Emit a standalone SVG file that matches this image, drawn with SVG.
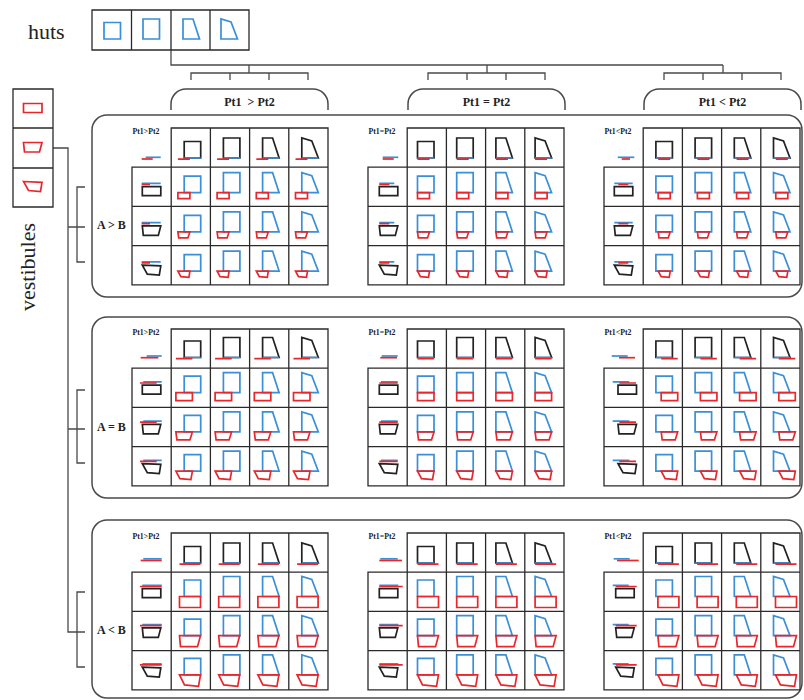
<svg xmlns="http://www.w3.org/2000/svg" width="804" height="700" viewBox="0 0 804 700">
<style>
.b{fill:none;stroke:#3a8fd6;stroke-width:1.7}
.r{fill:none;stroke:#e8262b;stroke-width:1.7}
.k{fill:none;stroke:#222;stroke-width:1.7}
.gl{fill:none;stroke:#2a2a2a;stroke-width:1.3}
.pn{fill:none;stroke:#4a4a4a;stroke-width:1.5}
.cn{fill:none;stroke:#4a4a4a;stroke-width:1.3}
.lb{font-family:"Liberation Serif","Times New Roman",serif;font-weight:bold;font-size:12px;fill:#222}
.sm{font-family:"Liberation Serif","Times New Roman",serif;font-weight:bold;font-size:7.8px;fill:#222}
.big{font-family:"Liberation Serif","Times New Roman",serif;font-size:22px;fill:#222}
</style>
<defs>
<path id="h1" d="M0,0V-16.5H16.5V0Z"/>
<path id="h2" d="M0,0V-20H16.5V0Z"/>
<path id="h3" d="M0,0V-20H10L16.5,0Z"/>
<path id="h4" d="M0,0V-20L10,-17L16.5,0Z"/>
<path id="k1" d="M0,0H18.5V9H0Z"/>
<path id="k2" d="M0,0H18.5L16,9.5H1Z"/>
<path id="k3" d="M0,0L18.5,0.8L17,10L5,9Z"/>
<path id="v1a" d="M0,0H12V6H0Z"/>
<path id="v2a" d="M0,0H12L10,6H0.8Z"/>
<path id="v3a" d="M0,0H12L11,6.2L3,5.5Z"/>
<path id="v1b" d="M0,0H16.5V8H0Z"/>
<path id="v2b" d="M0,0H16.5L14,8H1Z"/>
<path id="v3b" d="M0,0H16.5L15,8.5L4,7.5Z"/>
<path id="v1c" d="M0,0H21V11H0Z"/>
<path id="v2c" d="M0,0H21L18,11H1Z"/>
<path id="v3c" d="M0,0H21L19,11.5L5,10Z"/>
<path id="grid" class="gl" d="M39.2,0H196V156.8H0V39.2H39.2ZM39.2,39.2H196M0,78.4H196M0,117.6H196M39.2,39.2V156.8M78.4,0V156.8M117.6,0V156.8M156.8,0V156.8"/>
<g id="hutsB" class="b">
<use href="#h1" x="0" y="0"/><use href="#h2" x="39.2" y="0"/><use href="#h3" x="78.4" y="0"/><use href="#h4" x="117.6" y="0"/>
<use href="#h1" x="0" y="39.2"/><use href="#h2" x="39.2" y="39.2"/><use href="#h3" x="78.4" y="39.2"/><use href="#h4" x="117.6" y="39.2"/>
<use href="#h1" x="0" y="78.4"/><use href="#h2" x="39.2" y="78.4"/><use href="#h3" x="78.4" y="78.4"/><use href="#h4" x="117.6" y="78.4"/>
</g>
<g id="hdrK">
<g class="k"><use href="#h1" x="0"/><use href="#h2" x="39.2"/><use href="#h3" x="78.4"/><use href="#h4" x="117.6"/></g>
<path class="b" d="M0,0h16.5M39.2,0h16.5M78.4,0h16.5M117.6,0h16.5"/>
</g>
<path id="hdrR1" class="r" d="M0,0h12M39.2,0h12M78.4,0h12M117.6,0h12"/>
<path id="hdrR2" class="r" d="M0,0h16.5M39.2,0h16.5M78.4,0h16.5M117.6,0h16.5"/>
<path id="hdrR3" class="r" d="M0,0h21M39.2,0h21M78.4,0h21M117.6,0h21"/>
<g id="leftK" class="k"><use href="#k1" y="0"/><use href="#k2" y="39.2"/><use href="#k3" y="78.4"/></g>
<g id="vest1" class="r">
<use href="#v1a" x="0" y="0"/><use href="#v1a" x="39.2" y="0"/><use href="#v1a" x="78.4" y="0"/><use href="#v1a" x="117.6" y="0"/>
<use href="#v2a" x="0" y="39.2"/><use href="#v2a" x="39.2" y="39.2"/><use href="#v2a" x="78.4" y="39.2"/><use href="#v2a" x="117.6" y="39.2"/>
<use href="#v3a" x="0" y="78.4"/><use href="#v3a" x="39.2" y="78.4"/><use href="#v3a" x="78.4" y="78.4"/><use href="#v3a" x="117.6" y="78.4"/>
</g>
<g id="vest2" class="r">
<use href="#v1b" x="0" y="0"/><use href="#v1b" x="39.2" y="0"/><use href="#v1b" x="78.4" y="0"/><use href="#v1b" x="117.6" y="0"/>
<use href="#v2b" x="0" y="39.2"/><use href="#v2b" x="39.2" y="39.2"/><use href="#v2b" x="78.4" y="39.2"/><use href="#v2b" x="117.6" y="39.2"/>
<use href="#v3b" x="0" y="78.4"/><use href="#v3b" x="39.2" y="78.4"/><use href="#v3b" x="78.4" y="78.4"/><use href="#v3b" x="117.6" y="78.4"/>
</g>
<g id="vest3" class="r">
<use href="#v1c" x="0" y="0"/><use href="#v1c" x="39.2" y="0"/><use href="#v1c" x="78.4" y="0"/><use href="#v1c" x="117.6" y="0"/>
<use href="#v2c" x="0" y="39.2"/><use href="#v2c" x="39.2" y="39.2"/><use href="#v2c" x="78.4" y="39.2"/><use href="#v2c" x="117.6" y="39.2"/>
<use href="#v3c" x="0" y="78.4"/><use href="#v3c" x="39.2" y="78.4"/><use href="#v3c" x="78.4" y="78.4"/><use href="#v3c" x="117.6" y="78.4"/>
</g>
</defs>
<rect width="804" height="700" fill="#fff"/>

<g id="connectors" class="cn">
<path d="M171,50V65H723"/>
<path d="M249,65V73M191,80V73H308V80M230,73V80M269,73V80"/>
<path d="M487,65V73M428,80V73H545V80M467,73V80M506,73V80"/>
<path d="M723,65V73M664,80V73H781V80M703,73V80M742,73V80"/>
<path d="M53,148H68V632H85"/>
<path d="M68,227H85M85,187H77V262H85"/>
<path d="M68,429H85M85,390H77V463H85"/>
<path d="M85,592H77V667H85"/>
</g>

<g id="huts">
<text class="big" x="28" y="39">huts</text>
<path class="gl" d="M92,10H249V50H92ZM131.5,10V50M171,10V50M210,10V50"/>
<use class="b" href="#h1" x="104" y="39"/>
<use class="b" href="#h2" x="143" y="39"/>
<use class="b" href="#h3" x="183" y="39"/>
<use class="b" href="#h4" x="221" y="39"/>
</g>

<g id="vestibules">
<text class="big" transform="translate(35,267) rotate(-90)" text-anchor="middle">vestibules</text>
<path class="gl" d="M13,89H53V207H13ZM13,128H53M13,168H53"/>
<use class="r" href="#k1" x="23.5" y="103.5"/>
<use class="r" href="#k2" x="23.5" y="142.5"/>
<use class="r" href="#k3" x="23.5" y="181.5"/>
</g>

<g id="tab-gt">
<path class="pn" d="M171,110V104A15,15 0 0 1 186,89H313A15,15 0 0 1 328,104V110"/>
<text class="lb" x="249.5" y="106" text-anchor="middle" style="white-space:pre">Pt1  &gt; Pt2</text>
</g>
<g id="tab-eq">
<path class="pn" d="M408,110V104A15,15 0 0 1 423,89H550A15,15 0 0 1 565,104V110"/>
<text class="lb" x="486.5" y="106" text-anchor="middle">Pt1 = Pt2</text>
</g>
<g id="tab-lt">
<path class="pn" d="M644,110V104A15,15 0 0 1 659,89H786A15,15 0 0 1 801,104V110"/>
<text class="lb" x="722.5" y="106" text-anchor="middle">Pt1 &lt; Pt2</text>
</g>

<g id="panel-AgtB">
<rect class="pn" x="92" y="115" width="710" height="182" rx="15"/>
<text class="lb" x="97" y="229">A &gt; B</text>
<g id="p1g1">
<use href="#grid" x="132" y="128"/>
<text class="sm" x="132.5" y="133.5">Pt1&gt;Pt2</text>
<path class="b" d="M145.7,157.3H160.7"/><path class="r" d="M141.7,159H152.7"/>
<use href="#hdrK" x="184.2" y="158"/><use href="#hdrR1" x="177.9" y="159.2"/>
<use href="#leftK" x="142.3" y="186.7"/>
<path class="b" d="M141.7,183.4H160.7M141.7,222.6H160.7M141.7,261.8H160.7"/>
<path class="r" d="M141.7,184.5H150M141.7,223.7H150M141.7,262.9H150"/>
<use href="#hutsB" x="184.2" y="192.7"/><use href="#vest1" x="177.9" y="192.7"/>
</g>
<g id="p1g2">
<use href="#grid" x="368" y="128"/>
<text class="sm" x="368.5" y="133.5">Pt1=Pt2</text>
<path class="b" d="M382.7,157.3H398.3"/><path class="r" d="M382.7,159H393.7"/>
<use href="#hdrK" x="417.5" y="158"/><use href="#hdrR1" x="417.5" y="159.2"/>
<use href="#leftK" x="379.3" y="186.7"/>
<path class="b" d="M379.3,183.4H394.3M379.3,222.6H394.3M379.3,261.8H394.3"/>
<path class="r" d="M379.3,184.5H389.3M379.3,223.7H389.3M379.3,262.9H389.3"/>
<use href="#hutsB" x="417.5" y="192.7"/><use href="#vest1" x="417.5" y="192.7"/>
</g>
<g id="p1g3">
<use href="#grid" x="604" y="128"/>
<text class="sm" x="604.5" y="133.5">Pt1&lt;Pt2</text>
<path class="b" d="M617.7,157.3H634.3"/><path class="r" d="M621.7,159H630"/>
<use href="#hdrK" x="655.9" y="158"/><use href="#hdrR1" x="658.2" y="159.2"/>
<use href="#leftK" x="614.3" y="186.7"/>
<path class="b" d="M614.3,183.4H632.7M614.3,222.6H632.7M614.3,261.8H632.7"/>
<path class="r" d="M618.3,184.5H628.3M618.3,223.7H628.3M618.3,262.9H628.3"/>
<use href="#hutsB" x="655.9" y="192.7"/><use href="#vest1" x="658.2" y="192.7"/>
</g>
</g>

<g id="panel-AeqB">
<rect class="pn" x="92" y="317" width="710" height="181" rx="15"/>
<text class="lb" x="97" y="431">A = B</text>
<g id="p2g1">
<use href="#grid" x="132" y="329"/>
<text class="sm" x="132.5" y="334.5">Pt1&gt;Pt2</text>
<path class="b" d="M146.7,356H161.7"/><path class="r" d="M140.7,357.7H158.3"/>
<use href="#hdrK" x="184.2" y="357.5"/><use href="#hdrR2" x="175.9" y="358.7"/>
<use href="#leftK" x="142.3" y="385.2"/>
<path class="b" d="M143.3,381.9H161.7M143.3,421.1H161.7M143.3,460.3H161.7"/>
<path class="r" d="M140,383H156.7M140,422.2H156.7M140,461.4H156.7"/>
<use href="#hutsB" x="184.2" y="392.7"/><use href="#vest2" x="175.9" y="392.7"/>
</g>
<g id="p2g2">
<use href="#grid" x="368" y="329"/>
<text class="sm" x="368.5" y="334.5">Pt1=Pt2</text>
<path class="b" d="M381.7,356H397.7"/><path class="r" d="M380.3,357.7H397"/>
<use href="#hdrK" x="417.5" y="357.5"/><use href="#hdrR2" x="417.5" y="358.7"/>
<use href="#leftK" x="379.3" y="385.2"/>
<path class="b" d="M381,381.9H397.7M381,421.1H397.7M381,460.3H397.7"/>
<path class="r" d="M379.3,383H397.7M379.3,422.2H397.7M379.3,461.4H397.7"/>
<use href="#hutsB" x="417.5" y="392.7"/><use href="#vest2" x="417.5" y="392.7"/>
</g>
<g id="p2g3">
<use href="#grid" x="604" y="329"/>
<text class="sm" x="604.5" y="334.5">Pt1&lt;Pt2</text>
<path class="b" d="M611.7,356H627.7"/><path class="r" d="M619,357.7H635"/>
<use href="#hdrK" x="655.9" y="357.5"/><use href="#hdrR2" x="661.2" y="358.7"/>
<use href="#leftK" x="618" y="385.2"/>
<path class="b" d="M612.7,381.9H629.3M612.7,421.1H629.3M612.7,460.3H629.3"/>
<path class="r" d="M619.3,383H636M619.3,422.2H636M619.3,461.4H636"/>
<use href="#hutsB" x="655.9" y="392.7"/><use href="#vest2" x="661.2" y="392.7"/>
</g>
</g>

<g id="panel-AltB">
<rect class="pn" x="92" y="520" width="710" height="178" rx="15"/>
<text class="lb" x="97" y="634">A &lt; B</text>
<g id="p3g1">
<use href="#grid" x="132" y="533"/>
<text class="sm" x="132.5" y="538.5">Pt1&gt;Pt2</text>
<path class="b" d="M143.3,558.8H161.7"/><path class="r" d="M140.7,560.5H161.7"/>
<use href="#hdrK" x="184.2" y="563"/><use href="#hdrR3" x="179.5" y="564.2"/>
<use href="#leftK" x="142.3" y="588.7"/>
<path class="b" d="M142.3,585.4H161.7M142.3,624.6H161.7M142.3,663.8H161.7"/>
<path class="r" d="M140,586.5H161.7M140,625.7H161.7M140,664.9H161.7"/>
<use href="#hutsB" x="184.2" y="596.5"/><use href="#vest3" x="179.5" y="596.5"/>
</g>
<g id="p3g2">
<use href="#grid" x="368" y="533"/>
<text class="sm" x="368.5" y="538.5">Pt1=Pt2</text>
<path class="b" d="M380.3,558.8H397.7"/><path class="r" d="M379.3,560.5H402"/>
<use href="#hdrK" x="417.5" y="563"/><use href="#hdrR3" x="417.5" y="564.2"/>
<use href="#leftK" x="379.3" y="588.7"/>
<path class="b" d="M379.3,585.4H398.3M379.3,624.6H398.3M379.3,663.8H398.3"/>
<path class="r" d="M379.3,586.5H402.7M379.3,625.7H402.7M379.3,664.9H402.7"/>
<use href="#hutsB" x="417.5" y="596.5"/><use href="#vest3" x="417.5" y="596.5"/>
</g>
<g id="p3g3">
<use href="#grid" x="604" y="533"/>
<text class="sm" x="604.5" y="538.5">Pt1&lt;Pt2</text>
<path class="b" d="M613.7,558.8H629.7"/><path class="r" d="M617,560.5H638.7"/>
<use href="#hdrK" x="655.9" y="563"/><use href="#hdrR3" x="657.9" y="564.2"/>
<use href="#leftK" x="615.7" y="588.7"/>
<path class="b" d="M612.7,585.4H628.7M612.7,624.6H628.7M612.7,663.8H628.7"/>
<path class="r" d="M615.7,586.5H636.7M615.7,625.7H636.7M615.7,664.9H636.7"/>
<use href="#hutsB" x="655.9" y="596.5"/><use href="#vest3" x="657.9" y="596.5"/>
</g>
</g>
</svg>
